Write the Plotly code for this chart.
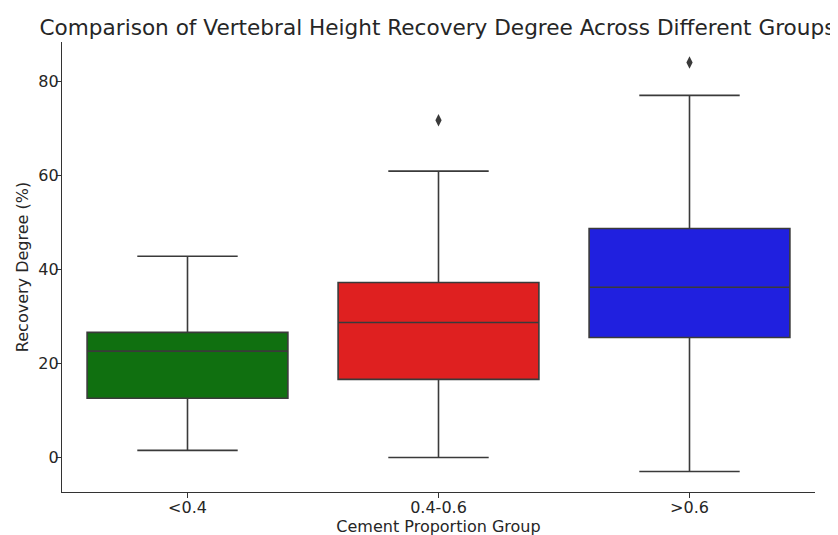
import plotly.graph_objects as go

groups = ["<0.4", "0.4-0.6", ">0.6"]
q1 = [12.6, 16.6, 25.5]
median = [22.6, 28.7, 36.2]
q3 = [26.6, 37.2, 48.7]
lower_fence = [1.5, 0.0, -3.0]
upper_fence = [42.8, 60.9, 77.0]
outlier_groups = ["0.4-0.6", ">0.6"]
outlier_values = [71.7, 84.0]
colors = ["#107010", "#df2020", "#2020df"]

fig = go.Figure()
for i, g in enumerate(groups):
    fig.add_trace(go.Box(
        x=[g], q1=[q1[i]], median=[median[i]], q3=[q3[i]],
        lowerfence=[lower_fence[i]], upperfence=[upper_fence[i]],
        fillcolor=colors[i], line=dict(color="#3a3a3a", width=1.6),
        whiskerwidth=0.5, width=0.8, boxpoints=False, showlegend=False,
        hoverinfo="skip",
    ))

fig.add_trace(go.Scatter(
    x=outlier_groups, y=outlier_values, mode="markers",
    marker=dict(symbol="diamond-tall", size=9, color="#3a3a3a"),
    showlegend=False, hoverinfo="skip",
))

fig.update_layout(
    width=838, height=535,
    margin=dict(l=54, r=31, t=34, b=51),
    paper_bgcolor="white", plot_bgcolor="white",
    font=dict(family="DejaVu Sans", color="#262626", size=16),
    title=dict(text="Comparison of Vertebral Height Recovery Degree Across Different Groups",
               x=0.5125, xanchor="center", y=0.963, yanchor="middle",
               font=dict(size=21.6, color="#262626")),
    boxmode="overlay",
)
fig.update_xaxes(
    type="category", range=[-0.5, 2.5], showline=True, linecolor="#333333", linewidth=1.2,
    ticks="outside", ticklen=5, tickcolor="#333333", showgrid=False, zeroline=False,
    tickfont=dict(size=16), automargin=False, ticklabelstandoff=-4,
    title=dict(text="Cement Proportion Group", font=dict(size=16), standoff=0),
)
fig.update_yaxes(
    range=[-7.35, 88.35], showline=True, linecolor="#333333", linewidth=1.2,
    ticks="outside", ticklen=5, tickcolor="#333333", showgrid=False, zeroline=False,
    tickvals=[0, 20, 40, 60, 80], tickfont=dict(size=16), automargin=False,
    ticklabelstandoff=-6,
    title=dict(text="Recovery Degree (%)", font=dict(size=16), standoff=5),
)

fig.write_html("out.html")
